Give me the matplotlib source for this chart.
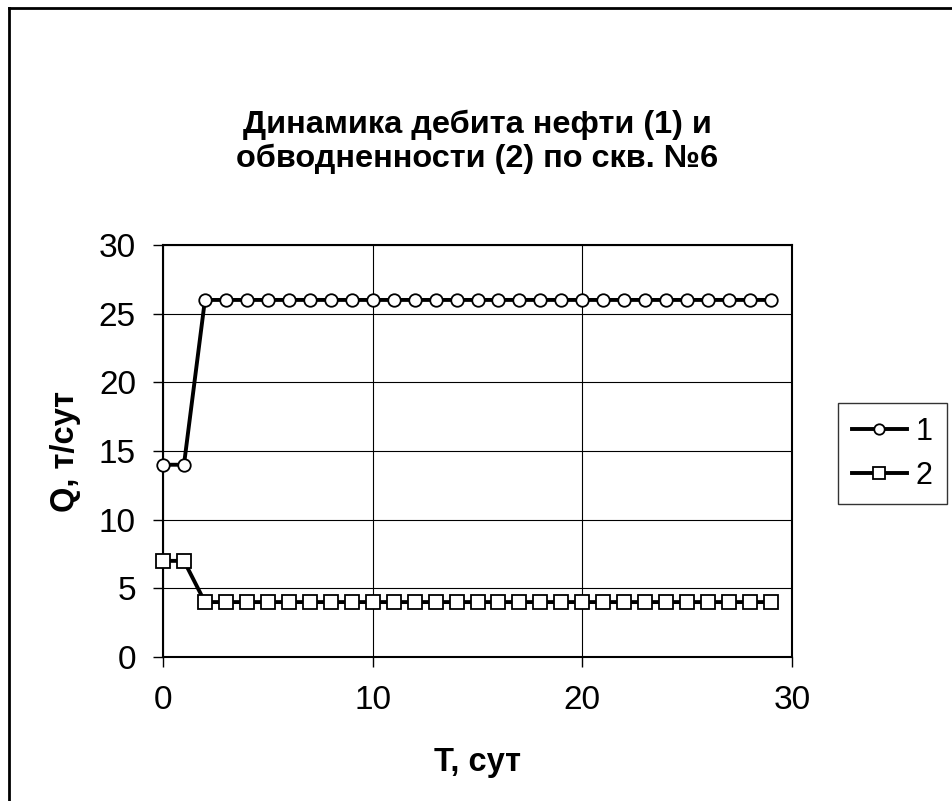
import matplotlib
matplotlib.use("Agg")
import matplotlib.pyplot as plt
from matplotlib.lines import Line2D

days = list(range(30))
oil_rate = [14, 14] + [26] * 28
water_cut = [7, 7] + [4] * 28

title = "Динамика дебита нефти (1) и\nобводненности (2) по скв. №6"
xlabel = "T, сут"
ylabel = "Q, т/сут"
series_labels = ["1", "2"]

plt.rcParams['font.family'] = ['Liberation Sans', 'DejaVu Sans']

fig = plt.figure(figsize=(9.53, 8.01), dpi=100)
ax = fig.add_axes([163/953, 1-657/801, (792-163)/953, (657-245)/801])

style = dict(color='black', lw=2.8, mfc='white', mec='black', mew=1.3)
ax.plot(days, oil_rate, marker='o', ms=9, label=series_labels[0], zorder=3, clip_on=False, **style)
ax.plot(days, water_cut, marker='s', ms=9.5, label=series_labels[1], zorder=3, clip_on=False, **style)

ax.set_xlim(0, 30)
ax.set_ylim(0, 30)
ax.set_xticks([0, 10, 20, 30])
ax.set_yticks([0, 5, 10, 15, 20, 25, 30])
ax.grid(True, color='black', lw=0.8)
for s in ax.spines.values():
    s.set_color('black')
    s.set_linewidth(1.5)
ax.tick_params(direction='out', length=7, width=1, labelsize=24)
ax.tick_params(axis='y', pad=12.5)
ax.tick_params(axis='x', pad=13.2)
ax.set_xlabel(xlabel, fontsize=23.5, fontweight='bold', labelpad=22)
ax.set_ylabel(ylabel, fontsize=23.5, fontweight='bold', labelpad=13)

fig.text(477/953, 1-142/801, title, ha='center', va='center',
         fontsize=23.4, fontweight='bold', linespacing=1.15)

leg = fig.legend(handles=[
    Line2D([], [], marker='o', ms=7.5, **style),
    Line2D([], [], marker='s', ms=8, **style)],
    labels=series_labels, loc='upper left', bbox_to_anchor=(838/953, 1-403/801),
    fontsize=22, frameon=True, fancybox=False, edgecolor='black',
    handlelength=1.8, handletextpad=0.3, borderpad=0.45, labelspacing=0.45,
    borderaxespad=0)
leg.get_frame().set_linewidth(1)

fig.add_artist(Line2D([9/953, 9/953], [0, 1-8/801], color='black', lw=2, transform=fig.transFigure))
fig.add_artist(Line2D([9/953, 1], [1-8/801, 1-8/801], color='black', lw=2, transform=fig.transFigure))

fig.savefig("out.png", dpi=100)
